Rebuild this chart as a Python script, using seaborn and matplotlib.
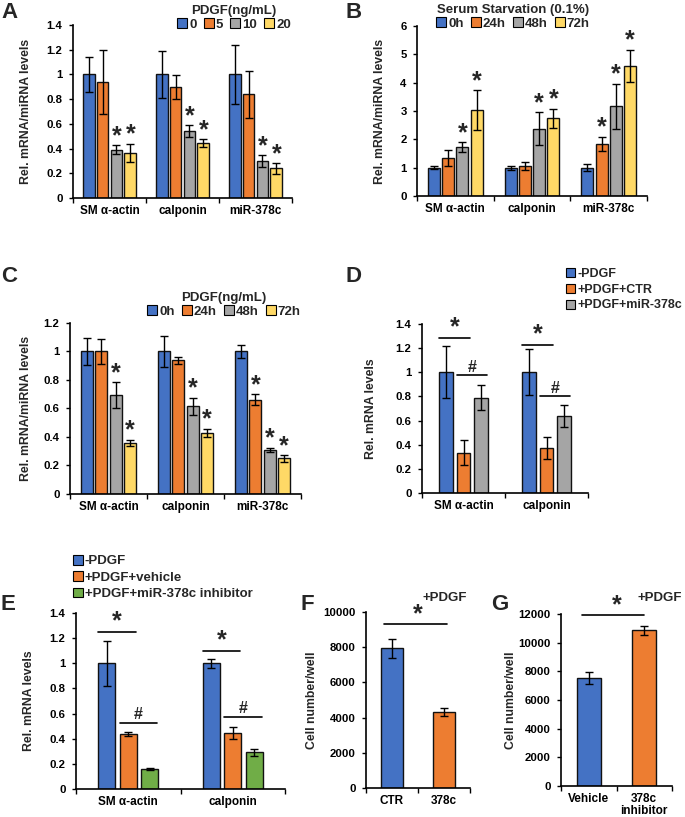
import numpy as np
import pandas as pd
import matplotlib
matplotlib.use("Agg")
import matplotlib.pyplot as plt
from matplotlib.patches import Patch
import seaborn as sns

# ---------------- data ----------------
genes3 = ["SM α-actin", "calponin", "miR-378c"]
genes2 = ["SM α-actin", "calponin"]

# Panel A: PDGF dose
A_groups = ["0", "5", "10", "20"]
A_means = {"0": [1.0, 1.0, 1.0], "5": [0.94, 0.90, 0.84],
           "10": [0.39, 0.54, 0.30], "20": [0.365, 0.445, 0.24]}
A_errs = {"0": [0.14, 0.19, 0.24], "5": [0.26, 0.095, 0.19],
          "10": [0.035, 0.048, 0.048], "20": [0.075, 0.032, 0.043]}
A_star = {"0": [0, 0, 0], "5": [0, 0, 0], "10": [1, 1, 1], "20": [1, 1, 1]}

# Panel B: serum starvation
B_groups = ["0h", "24h", "48h", "72h"]
B_means = {"0h": [1.0, 1.0, 1.0], "24h": [1.34, 1.06, 1.84],
           "48h": [1.72, 2.37, 3.16], "72h": [3.04, 2.74, 4.59]}
B_errs = {"0h": [0.06, 0.07, 0.13], "24h": [0.27, 0.14, 0.26],
          "48h": [0.18, 0.58, 0.80], "72h": [0.70, 0.34, 0.57]}
B_star = {"0h": [0, 0, 0], "24h": [0, 0, 1], "48h": [1, 1, 1], "72h": [1, 1, 1]}

# Panel C: PDGF time course
C_groups = ["0h", "24h", "48h", "72h"]
C_means = {"0h": [1.0, 1.0, 1.0], "24h": [1.0, 0.937, 0.662],
           "48h": [0.695, 0.615, 0.312], "72h": [0.358, 0.43, 0.25]}
C_errs = {"0h": [0.095, 0.11, 0.045], "24h": [0.09, 0.027, 0.04],
          "48h": [0.09, 0.06, 0.014], "72h": [0.022, 0.028, 0.024]}
C_star = {"0h": [0, 0, 0], "24h": [0, 0, 1], "48h": [1, 1, 1], "72h": [1, 1, 1]}

# Panel D
D_groups = ["-PDGF", "+PDGF+CTR", "+PDGF+miR-378c"]
D_means = {"-PDGF": [1.0, 1.0], "+PDGF+CTR": [0.335, 0.375], "+PDGF+miR-378c": [0.79, 0.64]}
D_errs = {"-PDGF": [0.215, 0.19], "+PDGF+CTR": [0.10, 0.09], "+PDGF+miR-378c": [0.105, 0.09]}
# (gene index, left bar, right bar, level, label)
D_sig = [(0, 0, 1, 1.285, "*"), (0, 1, 2, 0.975, "#"),
         (1, 0, 1, 1.23, "*"), (1, 1, 2, 0.80, "#")]

# Panel E
E_groups = ["-PDGF", "+PDGF+vehicle", "+PDGF+miR-378c inhibitor"]
E_means = {"-PDGF": [1.0, 1.0], "+PDGF+vehicle": [0.437, 0.448],
           "+PDGF+miR-378c inhibitor": [0.158, 0.292]}
E_errs = {"-PDGF": [0.18, 0.035], "+PDGF+vehicle": [0.015, 0.047],
          "+PDGF+miR-378c inhibitor": [0.01, 0.027]}
E_sig = [(0, 0, 1, 1.25, "*"), (0, 1, 2, 0.527, "#"),
         (1, 0, 1, 1.10, "*"), (1, 1, 2, 0.575, "#")]

# Panel F
F_cats = ["CTR", "378c"]
F_means = [7930, 4330]
F_errs = [550, 235]
F_sig_level = 9330

# Panel G
G_cats = ["Vehicle", "378c\ninhibitor"]
G_means = [7520, 10850]
G_errs = [420, 340]
G_sig_level = 11930

BLUE, ORANGE, GRAY, YELLOW, GREEN = "#4472C4", "#ED7D31", "#A5A5A5", "#FFD966", "#70AD47"

# ---------------- style ----------------
sns.set_style("ticks")
plt.rcParams["font.family"] = ["Liberation Sans", "DejaVu Sans"]
plt.rcParams["font.weight"] = "bold"
plt.rcParams["axes.labelweight"] = "bold"

W, H = 685, 817
fig = plt.figure(figsize=(W / 100, H / 100), dpi=100)


def add_ax(l, t, r, b):
    return fig.add_axes([l / W, 1 - b / H, (r - l) / W, (b - t) / H])


def draw_grouped(ax, cats, groups, means, errs, colors, width, gap):
    rows = []
    for ci, c in enumerate(cats):
        for g in groups:
            rows.append((c, g, means[g][ci], errs[g][ci], ci))
    df = pd.DataFrame(rows, columns=["cat", "grp", "val", "err", "ci"])
    sns.barplot(data=df, x="cat", y="val", hue="grp", order=cats, hue_order=groups,
                palette=colors, width=width, gap=gap, edgecolor="#111111", linewidth=1.0,
                errorbar=None, legend=False, saturation=1, ax=ax)
    patches = sorted(ax.patches, key=lambda p: p.get_x())
    xs = np.array([p.get_x() + p.get_width() / 2 for p in patches])
    bw = patches[0].get_width()
    ax.errorbar(xs, df["val"], yerr=df["err"], fmt="none", ecolor="black",
                elinewidth=1, capsize=2.8, capthick=1, zorder=5)
    df["x"] = xs
    return df, bw


def style_ax(ax, n, ymax, ystep, ylabel, ylab_x):
    ax.set_xlim(-0.5, n - 0.5)
    ax.set_ylim(0, ymax)
    ticks = np.arange(0, ymax + ystep / 2, ystep)
    ax.set_yticks(ticks)
    ax.set_yticklabels([f"{t:g}" if ystep < 1 else f"{int(round(t))}" for t in ticks])
    for s in ["top", "right"]:
        ax.spines[s].set_visible(False)
    for s in ["left", "bottom"]:
        ax.spines[s].set_linewidth(1.2)
        ax.spines[s].set_color("black")
    ax.tick_params(axis="y", direction="out", length=3, width=1, pad=4.5,
                   labelsize=8.2, colors="black")
    ax.tick_params(axis="x", which="major", length=0, pad=5, labelsize=8.5, colors="black")
    ax.set_xticks(np.arange(-0.5, n), minor=True)
    ax.tick_params(axis="x", which="minor", direction="out", length=3.5, width=1, color="black")
    for lab in ax.get_xticklabels() + ax.get_yticklabels():
        lab.set_fontweight("bold")
    ax.set_xlabel("")
    ax.set_ylabel(ylabel, fontsize=8.8, fontweight="bold")
    l = ax.get_position().x0 * W
    w = ax.get_position().width * W
    ax.yaxis.set_label_coords((ylab_x - l) / w, 0.5)


def stars(ax, df, flags, groups):
    for _, r in df.iterrows():
        if flags[r["grp"]][r["ci"]]:
            ax.annotate("*", xy=(r["x"], r["val"] + r["err"]), xytext=(0, 1.5),
                        textcoords="offset points", ha="center", va="baseline",
                        fontsize=18, fontweight="bold")


def sig_lines(ax, df, groups, sig, bw):
    for ci, i, j, y, lab in sig:
        sub = df[df["ci"] == ci]
        x1 = sub[sub["grp"] == groups[i]]["x"].values[0] - 0.5 * bw
        x2 = sub[sub["grp"] == groups[j]]["x"].values[0] + 0.45 * bw
        ax.plot([x1, x2], [y, y], color="black", lw=1.2)
        ax.annotate(lab, xy=((x1 + x2) / 2, y), xytext=(0, 2.5),
                    textcoords="offset points", ha="center", va="baseline",
                    fontsize=18 if lab == "*" else 11.5, fontweight="bold")


def hlegend(groups, colors, title, cx, cy):
    handles = [Patch(facecolor=c, edgecolor="black", linewidth=0.8, label=g)
               for g, c in zip(groups, colors)]
    fig.legend(handles=handles, title=title, ncol=len(groups), loc="center",
               bbox_to_anchor=(cx / W, 1 - cy / H), frameon=False,
               prop={"size": 9.5, "weight": "bold"},
               title_fontproperties={"size": 9.5, "weight": "bold"},
               handlelength=0.75, handleheight=0.75, handletextpad=0.15,
               columnspacing=0.55, borderpad=0, borderaxespad=0, labelspacing=0.1)


def vlegend(groups, colors, left, top, size=9.5):
    handles = [Patch(facecolor=c, edgecolor="black", linewidth=0.8, label=g)
               for g, c in zip(groups, colors)]
    fig.legend(handles=handles, loc="upper left", bbox_to_anchor=(left / W, 1 - top / H),
               frameon=False, prop={"size": size, "weight": "bold"},
               handlelength=0.75, handleheight=0.75, handletextpad=0.15,
               borderpad=0, borderaxespad=0, labelspacing=0.3)


def panel_letter(letter, x, y):
    fig.text(x / W, 1 - y / H, letter, fontsize=16, fontweight="bold", va="top", ha="left")


# ---------------- Panel A ----------------
axA = add_ax(73, 25, 292, 198)
cols4 = [BLUE, ORANGE, GRAY, YELLOW]
dfA, bwA = draw_grouped(axA, genes3, A_groups, A_means, A_errs, cols4, 0.76, 0.15)
style_ax(axA, 3, 1.4, 0.2, "Rel. mRNA/miRNA levels", 32)
stars(axA, dfA, A_star, A_groups)
hlegend(A_groups, cols4, "PDGF(ng/mL)", 234, 18)
panel_letter("A", 1, 2)

# ---------------- Panel B ----------------
axB = add_ax(417, 26, 647, 196)
dfB, bwB = draw_grouped(axB, genes3, B_groups, B_means, B_errs, cols4, 0.74, 0.15)
style_ax(axB, 3, 6, 1, "Rel. mRNA/miRNA levels", 386)
stars(axB, dfB, B_star, B_groups)
hlegend(B_groups, cols4, "Serum Starvation (0.1%)", 513, 17)
panel_letter("B", 345, 2)

# ---------------- Panel C ----------------
axC = add_ax(70, 323, 301, 494)
dfC, bwC = draw_grouped(axC, genes3, C_groups, C_means, C_errs, cols4, 0.74, 0.15)
style_ax(axC, 3, 1.2, 0.2, "Rel. mRNA/miRNA levels", 32)
stars(axC, dfC, C_star, C_groups)
hlegend(C_groups, cols4, "PDGF(ng/mL)", 224, 305)
panel_letter("C", 1, 266)

# ---------------- Panel D ----------------
axD = add_ax(422, 324, 588, 493)
cols3 = [BLUE, ORANGE, GRAY]
dfD, bwD = draw_grouped(axD, genes2, D_groups, D_means, D_errs, cols3, 0.63, 0.22)
style_ax(axD, 2, 1.4, 0.2, "Rel. mRNA levels", 377)
sig_lines(axD, dfD, D_groups, D_sig, bwD)
vlegend(D_groups, cols3, 566, 268, size=9.0)
panel_letter("D", 345, 266)

# ---------------- Panel E ----------------
axE = add_ax(76, 613, 285, 789)
colsE = [BLUE, ORANGE, GREEN]
dfE, bwE = draw_grouped(axE, genes2, E_groups, E_means, E_errs, colsE, 0.62, 0.22)
style_ax(axE, 2, 1.4, 0.2, "Rel. mRNA levels", 35)
sig_lines(axE, dfE, E_groups, E_sig, bwE)
vlegend(E_groups, colsE, 73, 555)
panel_letter("E", 1, 594)

# ---------------- Panel F ----------------
axF = add_ax(366, 612, 470, 788)
dfF, bwF = draw_grouped(axF, F_cats, ["v"], {"v": F_means}, {"v": F_errs}, [BLUE], 0.42, 0)
for p, c in zip(sorted(axF.patches, key=lambda p: p.get_x()), [BLUE, ORANGE]):
    p.set_facecolor(c)
style_ax(axF, 2, 10000, 2000, "Cell number/well", 318)
xF = dfF["x"].values
axF.plot([xF[0] - 0.35 * bwF, xF[1] + 0.15 * bwF], [F_sig_level] * 2, color="black", lw=1.2)
axF.annotate("*", xy=((xF[0] + xF[1]) / 2, F_sig_level), xytext=(0, 2),
             textcoords="offset points", ha="center", va="baseline", fontsize=18, fontweight="bold")
fig.text(445 / W, 1 - 598 / H, "+PDGF", fontsize=9.5, fontweight="bold", ha="center", va="center")
panel_letter("F", 301, 594)

# ---------------- Panel G ----------------
axG = add_ax(561, 614, 672, 786)
dfG, bwG = draw_grouped(axG, G_cats, ["v"], {"v": G_means}, {"v": G_errs}, [BLUE], 0.43, 0)
for p, c in zip(sorted(axG.patches, key=lambda p: p.get_x()), [BLUE, ORANGE]):
    p.set_facecolor(c)
style_ax(axG, 2, 12000, 2000, "Cell number/well", 517)
xG = dfG["x"].values
axG.plot([xG[0] - 0.3 * bwG, xG[1]], [G_sig_level] * 2, color="black", lw=1.2)
axG.annotate("*", xy=((xG[0] + xG[1]) / 2, G_sig_level), xytext=(0, 2),
             textcoords="offset points", ha="center", va="baseline", fontsize=18, fontweight="bold")
for lab in axG.get_xticklabels():
    lab.set_linespacing(1.0)
fig.text(660 / W, 1 - 598 / H, "+PDGF", fontsize=9.5, fontweight="bold", ha="center", va="center")
panel_letter("G", 491, 594)

fig.savefig("out.png", dpi=100)
